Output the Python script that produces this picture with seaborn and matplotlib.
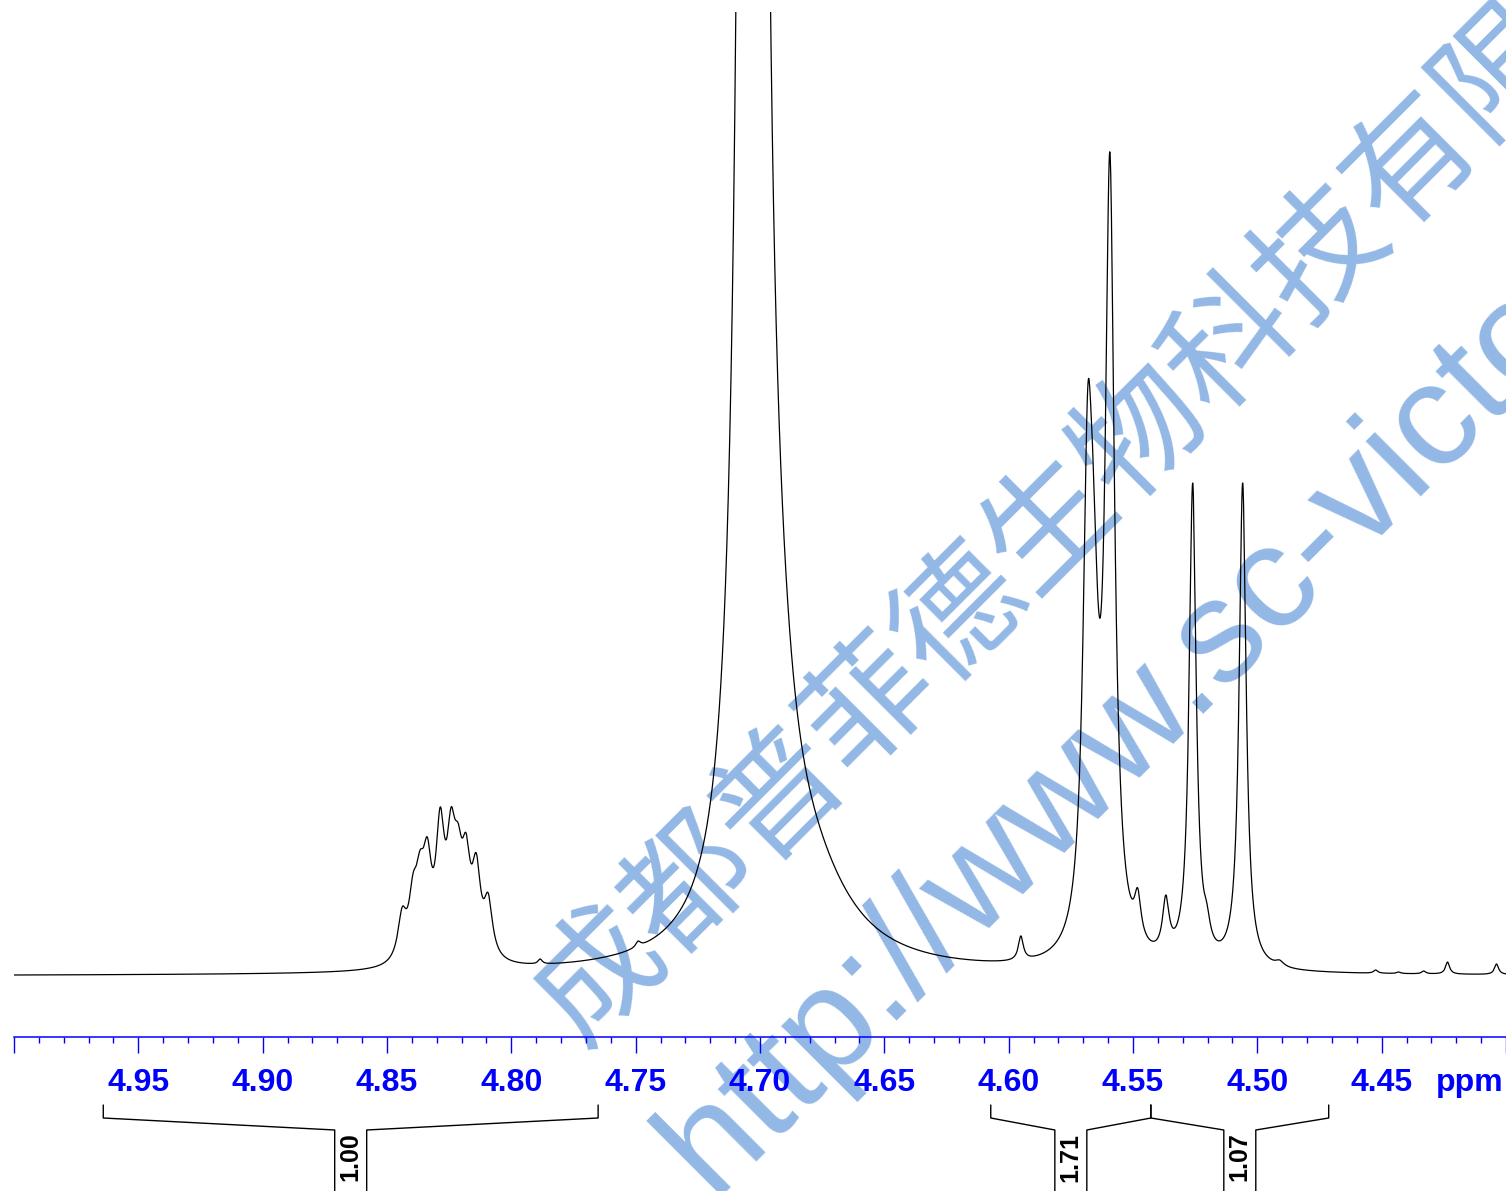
import numpy as np
import pandas as pd
import seaborn as sns
import matplotlib.pyplot as plt
from matplotlib import transforms

# Figure size in pixels (saved at dpi 100)
W, H = 1506, 1191

# Spectrum window in ppm (drawn reversed, high ppm on the left)
ppm_left, ppm_right = 5.00, 4.40
baseline = 61

# Solvent (water) peak, clipped at the top: centre, amplitude, half width
water_ppm = [4.7030, 4.6940, 4.6799]
water_amp = [65000, 150, 65]
water_hw = [0.0008, 0.0088, 0.0201]

# Resolved peaks: position (ppm), apex height, half width (ppm)
peak_ppm = [4.8439, 4.8395, 4.8367, 4.8338, 4.8286, 4.8242, 4.8214, 4.8182, 4.8141, 4.8093,
            4.7884, 4.7490, 4.6148, 4.5951, 4.5859,
            4.5682, 4.5658, 4.5593, 4.5481, 4.5368, 4.5260, 4.5203, 4.5059, 4.4910,
            4.4524, 4.4432, 4.4331, 4.4235, 4.4038]
peak_top = [130, 164, 187, 200, 230, 230, 214, 204, 184, 144,
            78, 96, 72, 101, 79,
            649, 561, 885, 149, 142, 554, 134, 554, 77,
            67, 65, 66, 75, 73]
peak_hw = [0.0021] * 10 + [0.0010, 0.0012, 0.0012, 0.0012, 0.0012] + \
          [0.0023, 0.0023, 0.0022, 0.0016, 0.0016, 0.0017, 0.0016, 0.0017, 0.0020] + \
          [0.0010] * 5

# Integral regions and their values
int_from = [4.9641, 4.6072, 4.5428]
int_to = [4.7651, 4.5428, 4.4713]
int_value = ["1.00", "1.71", "1.07"]

tick_major = [5.00, 4.95, 4.90, 4.85, 4.80, 4.75, 4.70, 4.65, 4.60, 4.55, 4.50, 4.45, 4.40]
tick_labels = ["", "4.95", "4.90", "4.85", "4.80", "4.75", "4.70", "4.65", "4.60",
               "4.55", "4.50", "4.45", ""]


def lorentz(x, x0, hw):
    return hw ** 2 / ((x - x0) ** 2 + hw ** 2)


def water_at(x):
    return sum(a * lorentz(x, c, w) for c, a, w in zip(water_ppm, water_amp, water_hw))


# Work out line amplitudes so that each apex lands on the height
pk = np.array(peak_ppm)
hw = np.array(peak_hw)
M = lorentz(pk[:, None], pk[None, :], hw[None, :])
target = np.array(peak_top) - baseline - water_at(pk)
amp = np.clip(np.linalg.solve(M, target), 0, None)

ppm = np.linspace(ppm_right, ppm_left, 24001)
intensity = baseline + water_at(ppm) + (amp[None, :] * lorentz(ppm[:, None], pk[None, :], hw[None, :])).sum(axis=1)
spectrum = pd.DataFrame({"ppm": ppm, "intensity": intensity})

sns.set_style("white")
plt.rcParams['font.family'] = ['Liberation Sans', 'Noto Sans CJK SC', 'DejaVu Sans']

fig = plt.figure(figsize=(W / 100, H / 100), dpi=100)
ax = fig.add_axes([14 / W, 1 - 1037 / H, (W - 14) / W, (1037 - 12) / H])
ax.set_facecolor('none')

sns.lineplot(data=spectrum, x="ppm", y="intensity", ax=ax, color="black", lw=0.9,
             estimator=None, errorbar=None)

ax.set_xlim(ppm_left, ppm_right)
ax.set_ylim(0, 1025)
ax.set_xlabel("")
ax.set_ylabel("")
ax.set_yticks([])
for side in ["left", "right", "top"]:
    ax.spines[side].set_visible(False)
ax.spines["bottom"].set_color("blue")
ax.spines["bottom"].set_linewidth(1.1)

ax.set_xticks(tick_major)
ax.set_xticklabels(tick_labels)
ax.set_xticks(np.round(np.arange(4.40, 5.0001, 0.01), 2), minor=True)
ax.tick_params(axis="x", which="both", bottom=True, direction="out")
ax.tick_params(axis="x", which="major", length=11.5, width=1.0, color="blue",
               pad=11, labelsize=23, labelcolor="blue")
ax.tick_params(axis="x", which="minor", length=4.5, width=1.0, color="blue")
plt.setp(ax.get_xticklabels(), fontweight="bold")

fig.text(1470 / W, 1 - 1091.5 / H, "ppm", ha="center", va="baseline", fontsize=23,
         fontweight="bold", color="blue")

# Integral brackets below the axis
trans = transforms.blended_transform_factory(ax.transData, fig.transFigure)
box = 16 / 2488


def fy(y):
    return 1 - y / H


for a, b, val in zip(int_from, int_to, int_value):
    c = (a + b) / 2
    ax.plot([a, a, c + box, c + box], [fy(1105), fy(1118), fy(1130), fy(1195)],
            transform=trans, clip_on=False, color="black", lw=1.0)
    ax.plot([b, b, c - box, c - box], [fy(1105), fy(1118), fy(1130), fy(1195)],
            transform=trans, clip_on=False, color="black", lw=1.0)
    ax.text(c, fy(1157), val, transform=trans, rotation=90, ha="center", va="center",
            fontsize=18, fontweight="bold", color="black")

# Watermark behind the spectrum
wm_color = "#93b8e5"
fig.text(555 / W, 1 - 1022 / H, "成都普菲德生物科技有限公司", rotation=45, rotation_mode="anchor",
         ha="left", va="center", fontsize=92, color=wm_color,
         family=["Noto Sans CJK SC"], zorder=-1)
fig.text(712 / W, 1 - 1196 / H, "http://www.sc-victor.com", rotation=45, rotation_mode="anchor",
         ha="left", va="baseline", fontsize=106, color=wm_color,
         family=["Liberation Sans"], zorder=-1)

fig.savefig("out.png", dpi=100)
